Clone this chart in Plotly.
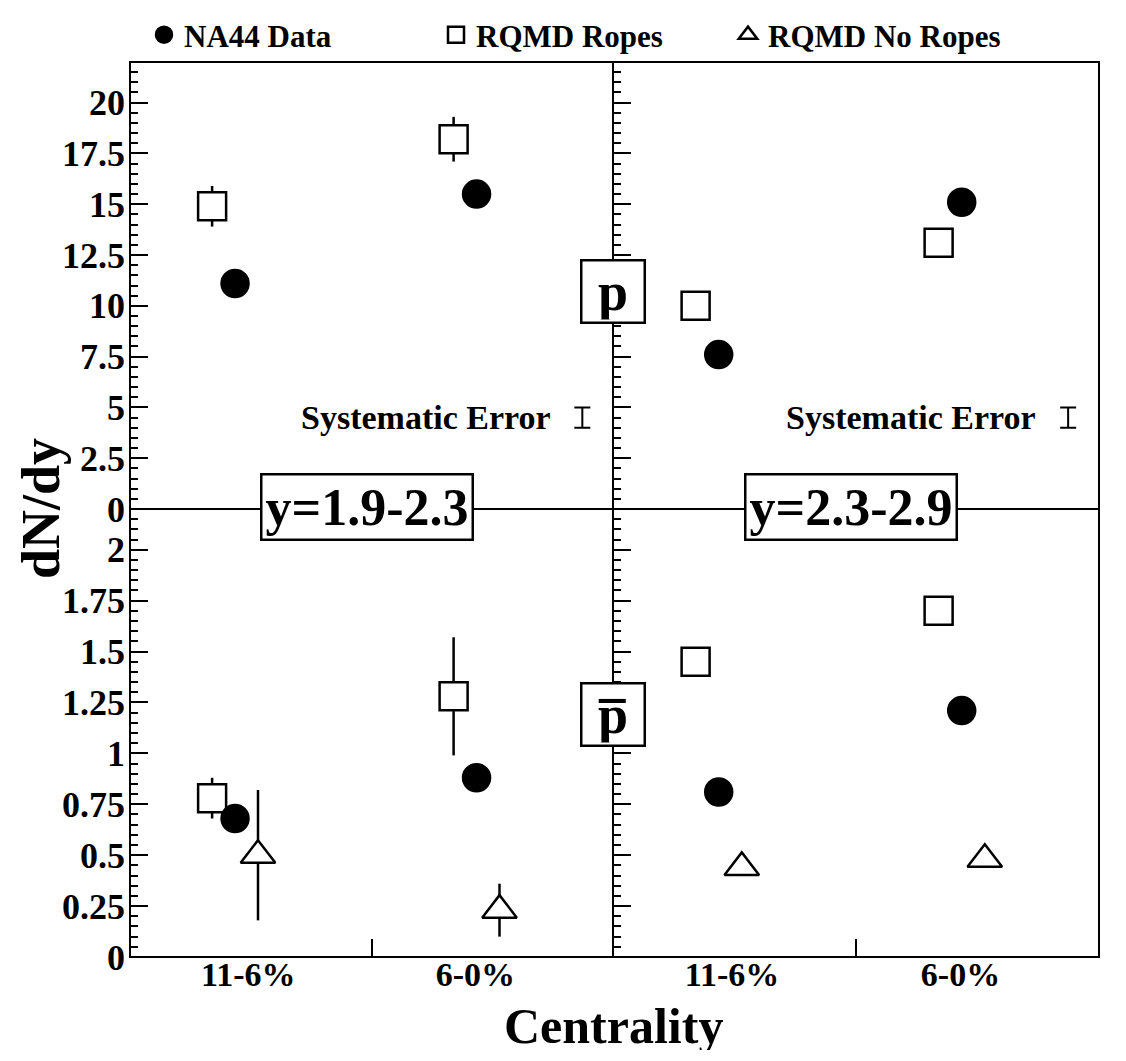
import plotly.graph_objects as go

# ---------------- data ----------------
categories = ["11-6%", "6-0%"]
rapidity_windows = ["y=1.9-2.3", "y=2.3-2.9"]
particles = ["p", "p\u0305"]
series_names = ["NA44 Data", "RQMD Ropes", "RQMD No Ropes"]

# protons, [window][centrality]
p_na44 = [[11.1, 15.5], [7.6, 15.1]]
p_ropes = [[14.9, 18.2], [10.0, 13.1]]
p_ropes_err = [[1.0, 1.1], [0.0, 0.0]]

# antiprotons, [window][centrality]
pbar_na44 = [[0.68, 0.88], [0.81, 1.21]]
pbar_ropes = [[0.78, 1.28], [1.45, 1.70]]
pbar_ropes_err = [[0.10, 0.29], [0.0, 0.0]]
pbar_noropes = [[0.50, 0.23], [0.44, 0.48]]
pbar_noropes_err = [[0.32, 0.13], [0.0, 0.0]]

# systematic error indicator (proton panels)
sys_err_center = 4.5
sys_err_half = 0.5

# ---------------- style ----------------
# page body has an 8px margin; figure sized to fit inside the window
W, H = 1110, 1045
ML, MT = 122, 54
PW, PH = 969, 895
MR, MB = W - ML - PW, H - MT - PH
XD = 483 / PW          # vertical divider (paper)
YD = 448 / PH          # horizontal divider (paper)

FONT = "Liberation Serif"
offsets = {"NA44 Data": 0.435, "RQMD Ropes": 0.34, "RQMD No Ropes": 0.53}
sym = {"NA44 Data": "circle", "RQMD Ropes": "square", "RQMD No Ropes": "triangle-up"}
msize = {"NA44 Data": 27, "RQMD Ropes": 28, "RQMD No Ropes": 30}
LW = 2.5

fig = go.Figure()

def axes_for(row, col):
    idx = row * 2 + col + 1
    return ("x" if idx == 1 else f"x{idx}"), ("y" if idx == 1 else f"y{idx}")

shown = set()

def add_series(name, values, errs, row, col):
    xa, ya = axes_for(row, col)
    xs = [i + offsets[name] for i in range(len(categories))]
    filled = name == "NA44 Data"
    marker = dict(symbol=sym[name], size=msize[name], color="black" if filled else "white",
                  line=dict(color="black", width=LW))
    tr = go.Scatter(
        x=xs, y=values, mode="markers", name=name, marker=marker,
        xaxis=xa, yaxis=ya, legendgroup=name,
        showlegend=name not in shown, hoverinfo="skip",
        legendrank=series_names.index(name) + 1,
    )
    if errs is not None:
        tr.error_y = dict(type="data", array=errs, symmetric=True, width=0,
                          thickness=LW, color="black", visible=True)
    fig.add_trace(tr)
    shown.add(name)

# draw order: squares, then circles, then triangles
for col in range(2):
    add_series("RQMD Ropes", p_ropes[col], p_ropes_err[col], 0, col)
    add_series("RQMD Ropes", pbar_ropes[col], pbar_ropes_err[col], 1, col)
for col in range(2):
    add_series("NA44 Data", p_na44[col], None, 0, col)
    add_series("NA44 Data", pbar_na44[col], None, 1, col)
for col in range(2):
    add_series("RQMD No Ropes", pbar_noropes[col], pbar_noropes_err[col], 1, col)

# systematic error bars
for col in range(2):
    xa, ya = axes_for(0, col)
    fig.add_trace(go.Scatter(
        x=[1.873], y=[sys_err_center], mode="markers",
        marker=dict(size=1, color="rgba(0,0,0,0)"),
        error_y=dict(type="data", array=[sys_err_half], width=8, thickness=2, color="black"),
        xaxis=xa, yaxis=ya, showlegend=False, hoverinfo="skip"))
    fig.add_annotation(x=1.75, y=sys_err_center, xref=xa, yref=ya, text="<b>Systematic Error</b>",
                       showarrow=False, xanchor="right", yanchor="middle",
                       font=dict(family=FONT, size=34, color="black"))

tickfont = dict(family=FONT, size=36, color="black", weight="bold")

def yax(domain, rng, dtick, minor_dtick, labels, anchor):
    return dict(domain=domain, range=rng, tick0=0, dtick=dtick, ticks="inside", ticklen=18,
                tickwidth=2, tickcolor="black", showticklabels=labels, tickfont=tickfont,
                showgrid=False, zeroline=False, showline=False, anchor=anchor,
                ticklabelstandoff=4,
                minor=dict(ticks="inside", dtick=minor_dtick, tick0=0, ticklen=8,
                           tickwidth=2, tickcolor="black", showgrid=False))

def xax(domain, anchor, labels):
    return dict(domain=domain, range=[0, 2], anchor=anchor,
                tickvals=[0.49, 1.43], ticktext=categories, ticks="", showticklabels=labels,
                tickfont=dict(family=FONT, size=34, color="black", weight="bold"),
                ticklabelstandoff=-6,
                showgrid=False, zeroline=False, showline=False,
                minor=dict(ticks="inside", dtick=1, tick0=0, ticklen=18, tickwidth=2,
                           tickcolor="black", showgrid=False))

fig.update_layout(
    width=W, height=H,
    margin=dict(l=ML, r=MR, t=MT, b=MB, autoexpand=False),
    paper_bgcolor="white", plot_bgcolor="white",
    xaxis=xax([0, XD], "y", False),
    xaxis2=xax([XD, 1], "y2", False),
    xaxis3=xax([0, XD], "y3", True),
    xaxis4=xax([XD, 1], "y4", True),
    yaxis=yax([YD, 1], [0, 22], 2.5, 0.5, True, "x"),
    yaxis2=yax([YD, 1], [0, 22], 2.5, 0.5, False, "x2"),
    yaxis3=yax([0, YD], [0, 2.2], 0.25, 0.05, True, "x3"),
    yaxis4=yax([0, YD], [0, 2.2], 0.25, 0.05, False, "x4"),
    showlegend=True,
    legend=dict(orientation="h", x=14 / PW, xanchor="left", y=1 + MT / PH, yanchor="top",
                font=dict(family=FONT, size=31, color="black", weight="bold"),
                entrywidth=247, entrywidthmode="pixels", bgcolor="rgba(0,0,0,0)",
                itemsizing="trace", borderwidth=0),
)

# frame and dividers
line = dict(color="black", width=2)
fig.add_shape(type="rect", xref="paper", yref="paper", x0=0, y0=0, x1=1, y1=1, line=line, layer="above")
fig.add_shape(type="line", xref="paper", yref="paper", x0=XD, x1=XD, y0=0, y1=1, line=line, layer="above")
fig.add_shape(type="line", xref="paper", yref="paper", x0=0, x1=1, y0=YD, y1=YD, line=line, layer="above")

# rapidity window boxes
for col in range(2):
    xa, _ = axes_for(0, col)
    fig.add_annotation(x=0.98, y=YD, xref=xa, yref="paper", text=f"<b>{rapidity_windows[col]}</b>",
                       showarrow=False, xanchor="center", yanchor="middle", yshift=2,
                       font=dict(family=FONT, size=52, color="black"),
                       bgcolor="white", bordercolor="black", borderwidth=2.5, borderpad=3)

# particle boxes on the divider
fig.add_annotation(x=XD, y=10.7, xref="paper", yref="y", text=f"<b>{particles[0]}</b>", showarrow=False,
                   font=dict(family=FONT, size=54, color="black"), width=57, height=56,
                   bgcolor="white", bordercolor="black", borderwidth=2.5, borderpad=2)
fig.add_annotation(x=XD, y=1.19, xref="paper", yref="y3", text=f"<b>{particles[1]}</b>", showarrow=False,
                   font=dict(family=FONT, size=54, color="black"), width=57, height=56,
                   bgcolor="white", bordercolor="black", borderwidth=2.5, borderpad=2)

# axis titles
fig.add_annotation(x=XD, y=0, xref="paper", yref="paper", yshift=-69, text="<b>Centrality</b>",
                   showarrow=False, xanchor="center", yanchor="middle", height=48,
                   font=dict(family=FONT, size=50, color="black"))
fig.add_annotation(x=0, y=YD, xref="paper", yref="paper", xshift=-89, text="<b>dN/dy</b>",
                   showarrow=False, textangle=-90, xanchor="center", yanchor="middle",
                   font=dict(family=FONT, size=54, color="black"))

fig.write_html("out.html")
